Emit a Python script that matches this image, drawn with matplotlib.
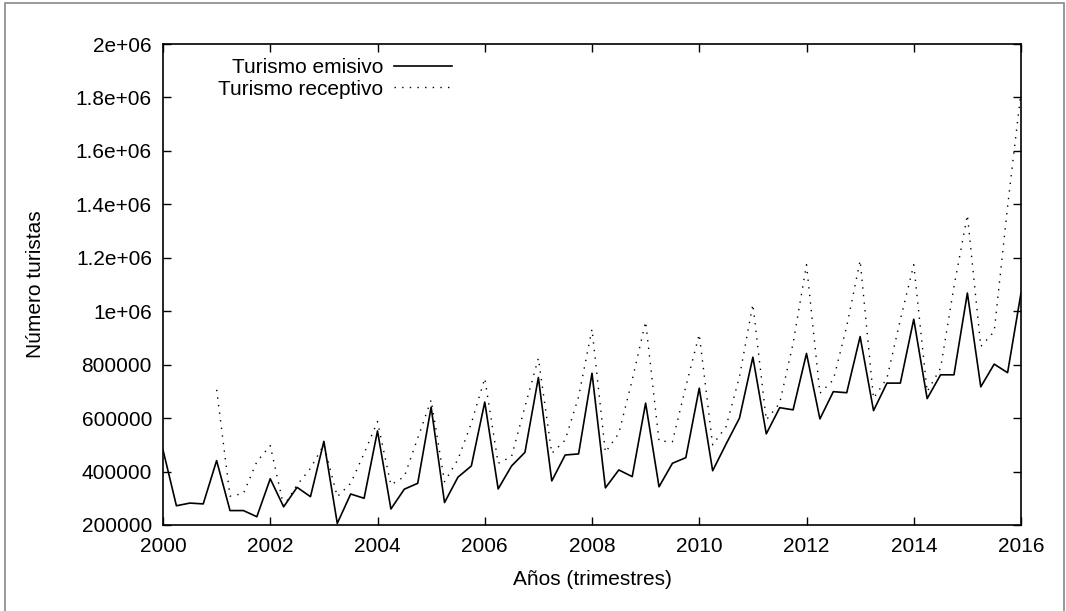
import matplotlib
matplotlib.use('Agg')
import matplotlib.pyplot as plt
import numpy as np
from matplotlib.patches import Rectangle

# quarterly series, 2000Q1 .. 2016Q1
years = np.arange(2000, 2016.01, 0.25)

emisivo = [
  481000, 272000, 282000, 279000,
  441000, 254000, 254000, 231000,
  373000, 268000, 341000, 306000,
  513000, 206000, 316000, 300000,
  552000, 260000, 334000, 356000,
  641000, 284000, 379000, 421000,
  660000, 335000, 421000, 472000,
  752000, 365000, 462000, 466000,
  768000, 339000, 406000, 381000,
  656000, 343000, 431000, 452000,
  712000, 403000, 503000, 600000,
  828000, 541000, 639000, 631000,
  842000, 597000, 699000, 695000,
  905000, 628000, 731000, 731000,
  970000, 673000, 762000, 762000,
  1068000, 717000, 802000, 770000,
  1068000,
]

receptivo = [
  np.nan, np.nan, np.nan, np.nan,
  706000, 308000, 318000, 437000,
  497000, 271000, 350000, 412000,
  500000, 306000, 356000, 468000,
  587000, 350000, 381000, 525000,
  668000, 362000, 445000, 581000,
  749000, 431000, 456000, 643000,
  824000, 468000, 518000, 680000,
  933000, 472000, 543000, 743000,
  961000, 514000, 512000, 718000,
  914000, 500000, 568000, 755000,
  1026000, 593000, 656000, 880000,
  1174000, 693000, 743000, 943000,
  1190000, 674000, 749000, 968000,
  1174000, 699000, 787000, 1092000,
  1360000, 868000, 924000, 1392000,
  1820000,
]

xticks = list(range(2000, 2017, 2))
yticks = list(range(200000, 2000001, 200000))
ylabels = ['200000', '400000', '600000', '800000', '1e+06', '1.2e+06',
           '1.4e+06', '1.6e+06', '1.8e+06', '2e+06']


def main():
  plt.rcParams['font.family'] = ['Liberation Sans', 'DejaVu Sans']
  plt.rcParams['font.size'] = 15

  fig = plt.figure(figsize=(10.66, 6.11), dpi=100)
  ax = fig.add_axes([163 / 1066., 1 - 525 / 611., 858 / 1066., 481 / 611.])

  ax.plot(years, emisivo, color='black', linewidth=1.2, label='Turismo emisivo')
  ax.plot(years, receptivo, color='black', linewidth=1.0,
          linestyle=(0, (1, 4.5)), label='Turismo receptivo')

  ax.set_xlim(2000, 2016)
  ax.set_ylim(200000, 2000000)
  ax.set_xticks(xticks)
  ax.set_xticklabels([str(t) for t in xticks])
  ax.set_yticks(yticks)
  ax.set_yticklabels(ylabels)
  ax.tick_params(direction='in', length=6, width=1.0, top=True, right=True,
                 labelsize=15)
  ax.tick_params(axis='x', pad=9)
  ax.tick_params(axis='y', pad=8)
  for s in ax.spines.values():
    s.set_linewidth(1.2)

  ax.set_xlabel(u'Años (trimestres)', fontsize=15, labelpad=10)
  ax.set_ylabel(u'Número turistas', fontsize=15, labelpad=22)

  ax.legend(loc='upper right', bbox_to_anchor=(0.337, 0.970), frameon=False,
            markerfirst=False, handlelength=2.8, handletextpad=0.5,
            labelspacing=0.1, borderpad=0, borderaxespad=0, fontsize=15)

  fig.patches.append(Rectangle((5 / 1066., -0.01), 1059 / 1066., 1.01 - 3 / 611.,
                               transform=fig.transFigure, fill=False,
                               edgecolor='#888888', linewidth=1.2))

  fig.savefig('out.png', dpi=100)


if __name__ == "__main__":
  main()
